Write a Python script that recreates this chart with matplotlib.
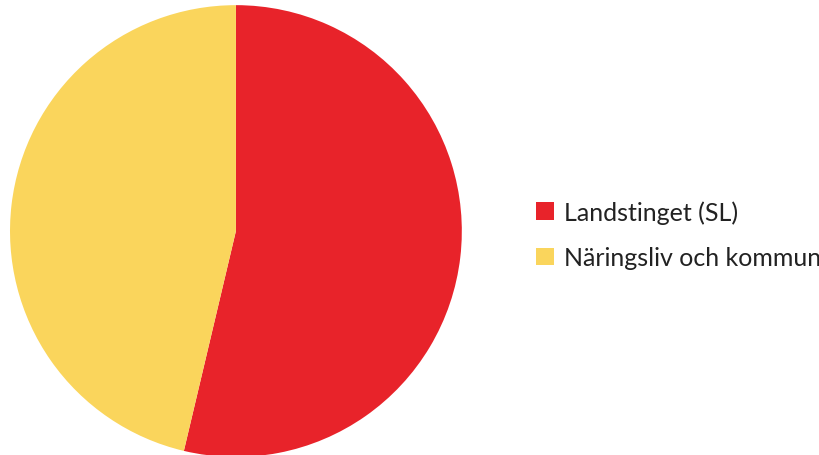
import matplotlib
matplotlib.use("Agg")
import matplotlib.pyplot as plt

# Andel av finansiering
labels = ["Landstinget (SL)", "Näringsliv och kommun"]
shares = [53.7, 46.3]
colors = ["#E8232A", "#FAD55C"]

plt.rcParams['font.family'] = ['Lato', 'DejaVu Sans']

fig = plt.figure(figsize=(8.2, 4.56), dpi=100)
ax = fig.add_axes([0.0122, -0.0044, 0.551, 0.991])

wedges, _ = ax.pie(shares, colors=colors, startangle=90, counterclock=False,
                   wedgeprops=dict(linewidth=0))
ax.set_xlim(-1, 1)
ax.set_ylim(-1, 1)
ax.set_aspect('equal')

fig.legend(wedges, labels, loc='center left', bbox_to_anchor=(0.654, 0.483),
           frameon=False, fontsize=18, handlelength=0.7, handleheight=0.7,
           handletextpad=0.4, labelspacing=0.9, labelcolor='#222222',
           borderaxespad=0, borderpad=0)

fig.savefig("out.png", dpi=100, facecolor='white')
